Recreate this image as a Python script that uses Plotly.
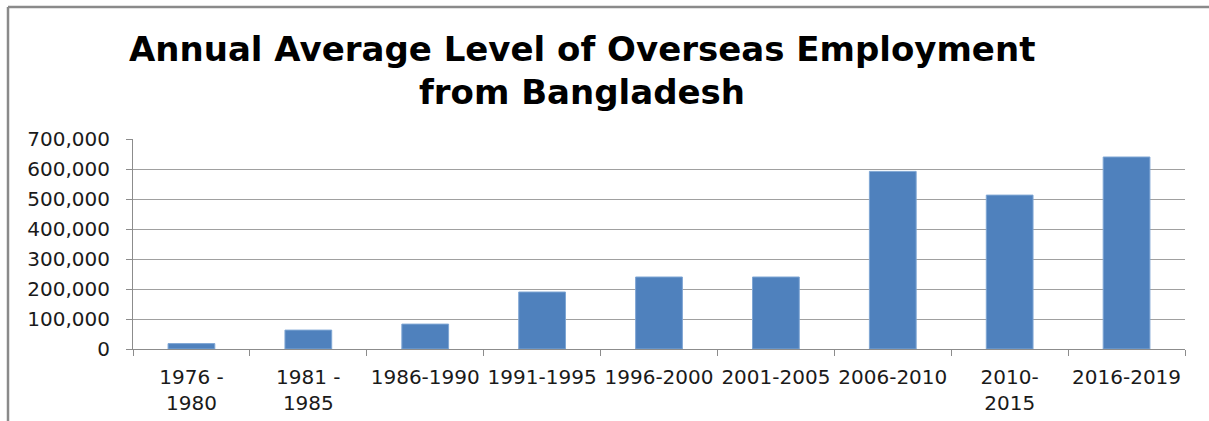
import plotly.graph_objects as go

categories = ["1976 -<br>1980", "1981 -<br>1985", "1986-1990", "1991-1995", "1996-2000",
              "2001-2005", "2006-2010", "2010-<br>2015", "2016-2019"]
values = [18000, 63000, 83000, 190000, 240000, 240000, 592000, 513000, 640000]
y_ticks = [0, 100000, 200000, 300000, 400000, 500000, 600000, 700000]
y_tick_labels = ["0", "100,000", "200,000", "300,000", "400,000", "500,000", "600,000", "700,000"]
title_lines = ["Annual Average Level of Overseas Employment", "from Bangladesh"]

W, H = 1209, 421
L, R, T, B = 133, 24, 139, 72
pw = W - L - R
ph = H - T - B

def py(pix):
    # pixel row from top -> paper y
    return (H - B - pix) / ph

def px(pix):
    return (pix - L) / pw

fig = go.Figure()
fig.add_trace(go.Bar(
    x=categories, y=values,
    marker=dict(color="#4F81BD", line=dict(color="#7FA6D4", width=1)),
    hoverinfo="x+y",
))

fig.update_layout(
    width=W, height=H,
    margin=dict(l=L, r=R, t=T, b=B, autoexpand=False),
    paper_bgcolor="white", plot_bgcolor="white",
    bargap=0.6,
    showlegend=False,
    font=dict(family="DejaVu Sans", size=20, color="#1a1a1a"),
    xaxis=dict(
        type="category", automargin=False,
        showline=True, linecolor="#8c8c8c", linewidth=1,
        ticks="outside", tickson="boundaries", ticklen=6, tickcolor="#8c8c8c",
        showgrid=False, tickangle=0,
        ticklabelstandoff=10,
    ),
    yaxis=dict(
        range=[0, 700000], automargin=False,
        tickvals=y_ticks, ticktext=y_tick_labels,
        showline=True, linecolor="#8c8c8c", linewidth=1,
        ticks="outside", ticklen=6, tickcolor="#8c8c8c",
        showgrid=True, gridcolor="#a0a0a0", gridwidth=1,
        zeroline=False,
        ticklabelstandoff=12,
    ),
    annotations=[
        dict(text="<b>%s</b>" % title_lines[0], xref="paper", yref="paper",
             x=px(582), y=py(49), xanchor="center", yanchor="middle", showarrow=False,
             font=dict(family="DejaVu Sans", size=34, color="black")),
        dict(text="<b>%s</b>" % title_lines[1], xref="paper", yref="paper",
             x=px(582), y=py(92), xanchor="center", yanchor="middle", showarrow=False,
             font=dict(family="DejaVu Sans", size=34, color="black")),
    ],
    shapes=[
        dict(type="line", xref="paper", yref="paper",
             x0=px(8), x1=px(W), y0=py(7), y1=py(7),
             line=dict(color="#8a8a8a", width=2.5)),
        dict(type="line", xref="paper", yref="paper",
             x0=px(8), x1=px(8), y0=py(7), y1=py(H),
             line=dict(color="#8a8a8a", width=2.5)),
    ],
)

fig.write_html("out.html", config={"displayModeBar": False})
